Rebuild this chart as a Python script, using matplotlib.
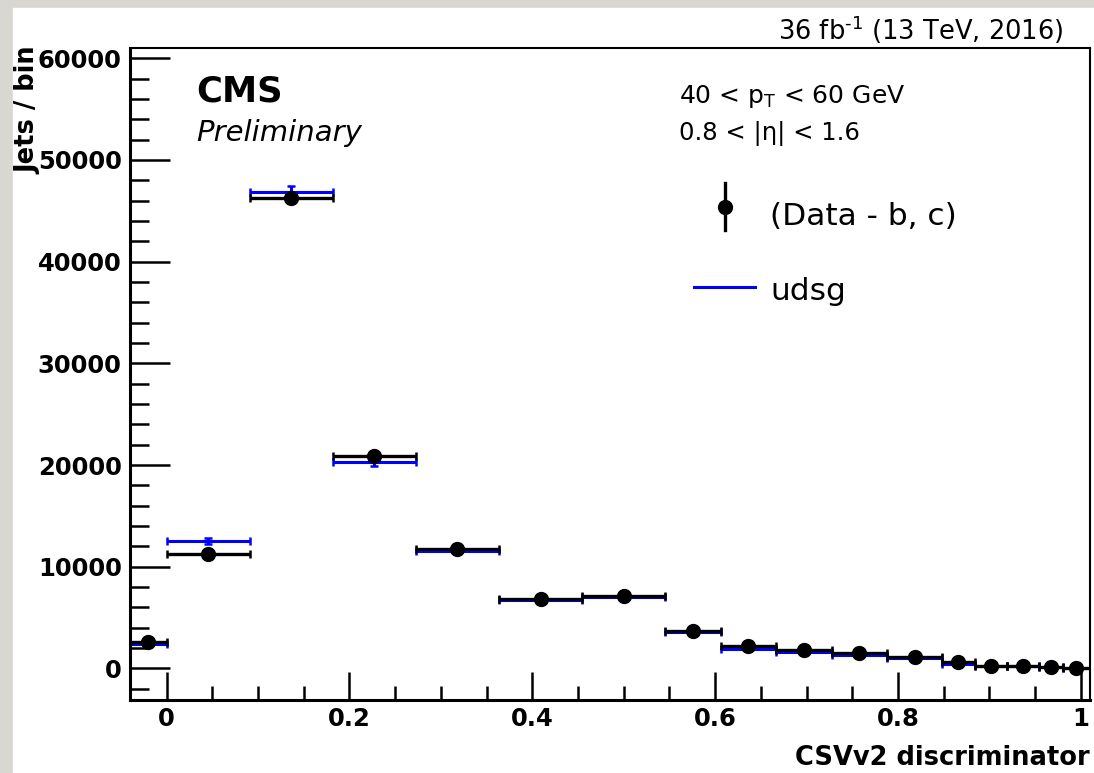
import matplotlib
matplotlib.use("Agg")
import matplotlib.pyplot as plt
from matplotlib.patches import Rectangle
from matplotlib.lines import Line2D
from matplotlib.ticker import MultipleLocator
import numpy as np

plt.rcParams['font.family'] = ['DejaVu Sans']
plt.rcParams['mathtext.fontset'] = 'dejavusans'

# bin edges of the CSVv2 discriminator
bin_edges = [-0.04, 0.0, 0.0909, 0.1818, 0.2727, 0.3636, 0.4545, 0.5454,
             0.6061, 0.6667, 0.7273, 0.7879, 0.8485, 0.8838, 0.9192,
             0.9545, 0.98, 1.01]

# (Data - b, c)
data_vals = [2590, 11210, 46280, 20850, 11730, 6810, 7150, 3640, 2160,
             1840, 1540, 1110, 590, 260, 290, 130, 20]

# udsg simulation
udsg_vals = [2360, 12490, 46870, 20260, 11500, 6700, 6980, 3580, 1930,
             1570, 1310, 1050, 480, 220, 250, 100, 0]
udsg_errs = [150, 300, 550, 400, 250, 150, 150, 100, 80,
             70, 60, 50, 40, 30, 30, 20, 20]

edges = np.array(bin_edges)
centers = 0.5 * (edges[:-1] + edges[1:])
half_w = 0.5 * (edges[1:] - edges[:-1])

W, H = 1094, 773
fig = plt.figure(figsize=(W / 100, H / 100), dpi=100, facecolor='#d9d7d1')
fig.patches.append(Rectangle((13 / W, 0), 1 - 13 / W, 1 - 8 / H,
                             transform=fig.transFigure, color='white', zorder=-5))


def px(x, y):
    return x / W, 1 - y / H


ax = fig.add_axes([130 / W, (H - 700) / H, 960 / W, 652 / H])
ax.set_zorder(1)
ax.patch.set_alpha(0)

ax.errorbar(centers, udsg_vals, xerr=half_w, yerr=udsg_errs, fmt='none',
            ecolor='#0000ff', elinewidth=2.2, capsize=3, capthick=1.8, zorder=2)
ax.errorbar(centers, data_vals, xerr=half_w, fmt='o', color='black',
            markersize=10, elinewidth=2.4, capsize=3, capthick=1.8, zorder=3)

ax.set_xlim(-0.04, 1.01)
ax.set_ylim(-3100, 61000)
ax.xaxis.set_major_locator(MultipleLocator(0.2))
ax.xaxis.set_minor_locator(MultipleLocator(0.05))
ax.yaxis.set_major_locator(MultipleLocator(10000))
ax.yaxis.set_minor_locator(MultipleLocator(2000))
ax.xaxis.set_major_formatter(matplotlib.ticker.FuncFormatter(lambda v, p: '%g' % round(v, 2)))
ax.yaxis.set_major_formatter(matplotlib.ticker.FuncFormatter(lambda v, p: '%d' % v))
ax.tick_params(which='both', direction='in', top=False, right=False, width=1.8)
ax.tick_params(axis='x', which='major', length=20, pad=5, labelsize=17.5)
ax.tick_params(axis='x', which='minor', length=10)
ax.tick_params(axis='y', which='major', length=29, pad=6, labelsize=17.5)
ax.tick_params(axis='y', which='minor', length=14)
for lab in ax.get_xticklabels() + ax.get_yticklabels():
    lab.set_fontweight('bold')
for side in ['left', 'bottom']:
    ax.spines[side].set_linewidth(2.2)
for side in ['top', 'right']:
    ax.spines[side].set_linewidth(1.5)

fig.text(*px(1090, 765), 'CSVv2 discriminator', ha='right', va='baseline',
         fontsize=18.5, fontweight='bold')
fig.text(*px(28, 46), 'Jets / bin', rotation=90, ha='center', va='top',
         fontsize=18.5, fontweight='bold')

fig.text(*px(1063, 40), r'36 fb$^{\text{-1}}$ (13 TeV, 2016)', ha='right',
         va='baseline', fontsize=18.5)
fig.text(*px(196, 102), 'CMS', ha='left', va='baseline', fontsize=25.5,
         fontweight='bold')
fig.text(*px(196, 141), 'Preliminary', ha='left', va='baseline', fontsize=21,
         style='italic')
fig.text(*px(679, 103), r'40 < p$_{\mathregular{T}}$ < 60 GeV', ha='left',
         va='baseline', fontsize=18)
fig.text(*px(679, 140), '0.8 < |η| < 1.6', ha='left', va='baseline', fontsize=17.5)

# legend
fig.lines.append(Line2D([725 / W, 725 / W], [1 - 183 / H, 1 - 230 / H],
                        transform=fig.transFigure, color='black', lw=2.4))
fig.lines.append(Line2D([725 / W], [1 - 207 / H], transform=fig.transFigure,
                        marker='o', color='black', markersize=10))
fig.text(*px(770, 225), '(Data - b, c)', ha='left', va='baseline', fontsize=22.5)
fig.lines.append(Line2D([694 / W, 755 / W], [1 - 287 / H, 1 - 287 / H],
                        transform=fig.transFigure, color='#0000ff', lw=2.2))
fig.text(*px(770, 300), 'udsg', ha='left', va='baseline', fontsize=22.5)

fig.savefig('out.png', dpi=100, facecolor=fig.get_facecolor())
